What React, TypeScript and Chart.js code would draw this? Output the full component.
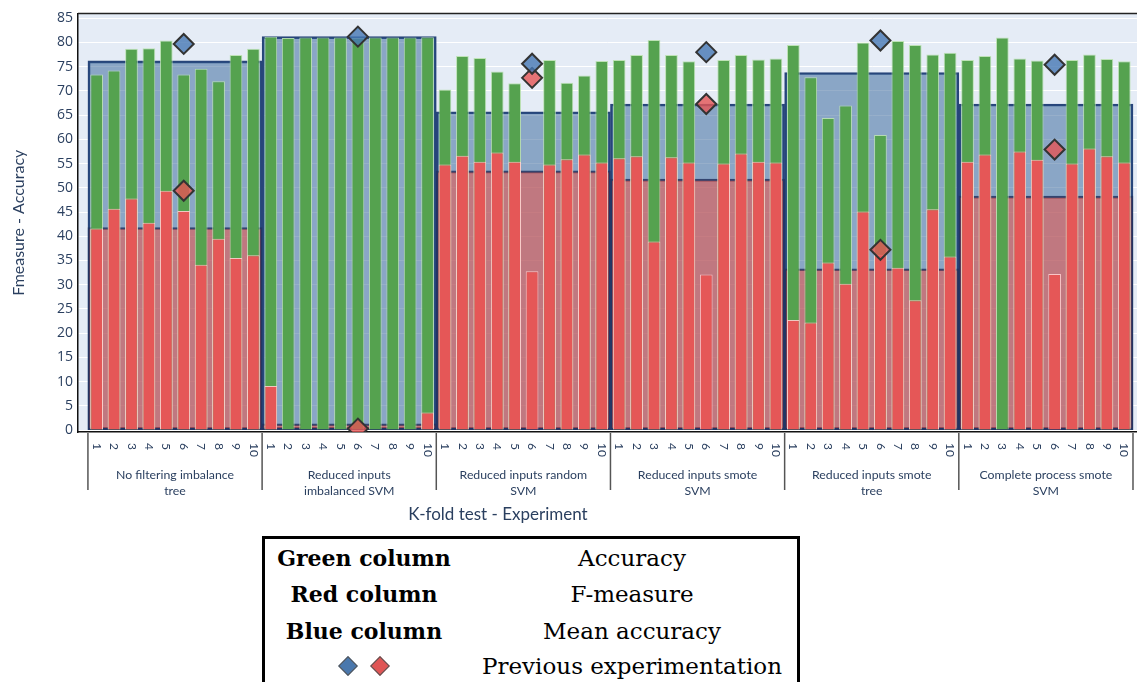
import React, { useEffect, useRef } from 'react';
import { Chart, registerables } from 'chart.js';

Chart.register(...registerables);

// ---------- data ----------
const groupLine1 = [
  'No filtering imbalance',
  'Reduced inputs',
  'Reduced inputs random',
  'Reduced inputs smote',
  'Reduced inputs smote',
  'Complete process smote',
];
const groupLine2 = ['tree', 'imbalanced SVM', 'SVM', 'SVM', 'tree', 'SVM'];
const folds = ['1', '2', '3', '4', '5', '6', '7', '8', '9', '10'];

const accuracy: (number | null)[] = [
  73.4, 74.2, 78.7, 78.8, 80.4, 73.4, 74.6, 72.0, 77.4, 78.7,
  81.2, 80.9, 81.0, 81.0, 81.0, 80.9, 81.0, 81.0, 81.0, 81.1,
  70.3, 77.2, 76.8, 74.0, 71.6, null, 76.4, 71.7, 73.2, 76.2,
  76.4, 77.4, 80.5, 77.4, 76.1, null, 76.4, 77.4, 76.5, 76.7,
  79.5, 72.8, 64.4, 67.0, 80.0, 60.9, 80.3, 79.5, 77.5, 77.9,
  76.4, 77.2, 81.0, 76.7, 76.3, null, 76.4, 77.5, 76.6, 76.1,
];
const fmeasure: (number | null)[] = [
  41.6, 45.7, 47.8, 42.8, 49.4, 45.2, 34.1, 39.5, 35.5, 36.1,
  9.1, 0, 0, 0, 0, 0, 0, 0, 0, 3.6,
  54.8, 56.6, 55.4, 57.3, 55.4, 32.8, 54.8, 55.9, 56.9, 55.2,
  56.1, 56.5, 38.9, 56.3, 55.2, 32.1, 55.0, 57.1, 55.4, 55.2,
  22.7, 22.2, 34.6, 30.2, 45.1, 36.2, 33.5, 26.8, 45.6, 35.8,
  55.4, 56.9, 0, 57.5, 55.8, 32.2, 55.0, 58.1, 56.5, 55.2,
];
const meanAccuracy = [76.2, 81.2, 65.7, 67.3, 73.8, 67.3];
const meanFmeasure = [41.8, 1.3, 53.5, 51.8, 33.3, 48.3];
const prevAccuracy = [79.7, 81.2, 75.6, 78.0, 80.4, 75.4];
const prevFmeasure = [49.4, 0.3, 72.7, 67.3, 37.2, 57.9];
const yTicks = [0, 5, 10, 15, 20, 25, 30, 35, 40, 45, 50, 55, 60, 65, 70, 75, 80, 85];

const legendKeys = ['Green column', 'Red column', 'Blue column'];
const legendValues = ['Accuracy', 'F-measure', 'Mean accuracy', 'Previous experimentation'];

const TEXT = '#2a3f5f';

const decor = {
  id: 'decor',
  beforeDraw(chart: any) {
    const { ctx, chartArea: a } = chart;
    ctx.save();
    ctx.fillStyle = '#e5ecf6';
    ctx.fillRect(a.left, a.top, a.right - a.left, a.bottom - a.top);
    ctx.restore();
  },
  afterDraw(chart: any) {
    const { ctx, chartArea: a } = chart;
    const xs = chart.scales.x;
    ctx.save();
    // top frame
    ctx.strokeStyle = '#222';
    ctx.lineWidth = 1.5;
    ctx.beginPath();
    ctx.moveTo(a.left, a.top);
    ctx.lineTo(a.right, a.top);
    ctx.stroke();
    // fold numbers (rotated clockwise)
    ctx.fillStyle = TEXT;
    ctx.font = '12px Lato';
    ctx.textAlign = 'left';
    ctx.textBaseline = 'middle';
    for (let i = 0; i < accuracy.length; i++) {
      const x = xs.getPixelForValue(i);
      ctx.save();
      ctx.translate(x, a.bottom + 11);
      ctx.rotate(Math.PI / 2);
      ctx.fillText(folds[i % folds.length], 0, 0);
      ctx.restore();
    }
    // group separators
    ctx.strokeStyle = '#555';
    ctx.lineWidth = 1.5;
    for (let g = 0; g <= groupLine1.length; g++) {
      const x = xs.getPixelForValue(g * 10 - 0.5);
      ctx.beginPath();
      ctx.moveTo(x, a.bottom + 1);
      ctx.lineTo(x, a.bottom + 58);
      ctx.stroke();
    }
    // group labels
    ctx.font = '12.3px Lato';
    ctx.textAlign = 'center';
    for (let g = 0; g < groupLine1.length; g++) {
      const cx = xs.getPixelForValue(g * 10 + 4.5);
      ctx.fillText(groupLine1[g], cx, a.bottom + 43);
      ctx.fillText(groupLine2[g], cx, a.bottom + 59);
    }
    // axis title
    ctx.font = '17px Lato';
    ctx.fillText('K-fold test - Experiment', 498, a.bottom + 83);
    ctx.restore();
  },
};

export default function App() {
  const ref = useRef<HTMLCanvasElement>(null);

  useEffect(() => {
    const groupX = meanAccuracy.map((_, g) => g * 10 + 4.5);
    const chart = new Chart(ref.current as HTMLCanvasElement, {
      type: 'bar',
      data: {
        datasets: [
          {
            type: 'line',
            label: 'Previous accuracy',
            data: prevAccuracy.map((v, g) => ({ x: g * 10 + 5, y: v })),
            showLine: false,
            pointStyle: 'rectRot',
            pointRadius: 10,
            pointBorderWidth: 2,
            pointBorderColor: '#333',
            pointBackgroundColor: 'rgba(70,120,180,0.8)',
            xAxisID: 'x',
            order: 0,
          } as any,
          {
            type: 'line',
            label: 'Previous F-measure',
            data: prevFmeasure.map((v, g) => ({ x: g * 10 + 5, y: v })),
            showLine: false,
            pointStyle: 'rectRot',
            pointRadius: 10,
            pointBorderWidth: 2,
            pointBorderColor: '#333',
            pointBackgroundColor: 'rgba(229,85,85,0.8)',
            xAxisID: 'x',
            order: 0,
          } as any,
          {
            type: 'bar',
            label: 'F-measure',
            data: fmeasure.map((v, i) => ({ x: i, y: v })),
            backgroundColor: 'rgb(229,87,87)',
            borderColor: 'rgba(255,205,205,0.9)',
            borderWidth: 1,
            grouped: false,
            barPercentage: 0.73,
            categoryPercentage: 1,
            xAxisID: 'x',
            order: 1,
          } as any,
          {
            type: 'bar',
            label: 'Accuracy',
            data: accuracy.map((v, i) => ({ x: i, y: v })),
            backgroundColor: 'rgb(85,162,79)',
            borderColor: 'rgba(185,225,175,0.9)',
            borderWidth: 1,
            grouped: false,
            barPercentage: 0.73,
            categoryPercentage: 1,
            xAxisID: 'x',
            order: 2,
          } as any,
          {
            type: 'bar',
            label: 'Mean F-measure',
            data: meanFmeasure.map((v, g) => ({ x: groupX[g], y: v })),
            backgroundColor: 'rgba(246,74,58,0.5)',
            borderColor: 'rgba(35,50,95,0.85)',
            borderWidth: 2,
            borderSkipped: false,
            grouped: false,
            barPercentage: 1,
            categoryPercentage: 1,
            xAxisID: 'x2',
            order: 3,
          } as any,
          {
            type: 'bar',
            label: 'Mean accuracy',
            data: meanAccuracy.map((v, g) => ({ x: groupX[g], y: v })),
            backgroundColor: 'rgba(47,96,150,0.5)',
            borderColor: '#27457a',
            borderWidth: 2,
            borderSkipped: false,
            grouped: false,
            barPercentage: 1,
            categoryPercentage: 1,
            xAxisID: 'x2',
            order: 4,
          } as any,
        ],
      },
      options: {
        responsive: false,
        animation: false,
        events: [],
        layout: { autoPadding: false, padding: { top: 11, right: 0, bottom: 0, left: 0 } },
        plugins: { legend: { display: false }, tooltip: { enabled: false } },
        scales: {
          x: {
            type: 'linear',
            position: 'bottom',
            min: -1.07,
            max: 59.73,
            offset: false,
            grid: { display: false, offset: false },
            border: { display: true, color: '#111', width: 1.5 },
            ticks: { display: false },
            afterBuildTicks: (s: any) => {
              s.ticks = accuracy.map((_, i) => ({ value: i }));
            },
            afterFit: (s: any) => {
              s.height = 98;
            },
          },
          x2: {
            type: 'linear',
            position: 'bottom',
            display: false,
            min: -1.07,
            max: 59.73,
            offset: false,
            grid: { display: false, offset: false },
            ticks: { stepSize: 10, includeBounds: false },
          },
          y: {
            type: 'linear',
            min: -0.4,
            max: 86,
            afterBuildTicks: (s: any) => {
              s.ticks = yTicks.map((v) => ({ value: v }));
            },
            afterFit: (s: any) => {
              s.width = 78;
            },
            grid: { color: '#ffffff', lineWidth: 1, drawTicks: false },
            border: { display: true, color: '#111', width: 1.5 },
            ticks: {
              color: TEXT,
              padding: 5,
              font: { family: "'Open Sans'", size: 14 },
            },
            title: {
              display: true,
              text: 'Fmeasure - Accuracy',
              color: TEXT,
              font: { family: 'Lato', size: 16 },
              padding: { top: 9, bottom: 0 },
            },
          },
        },
      } as any,
      plugins: [decor],
    });
    return () => chart.destroy();
  }, []);

  const diamond = (bg: string, left: number) => (
    <div
      style={{
        position: 'absolute',
        left: left - 7,
        top: 127 - 7,
        width: 14,
        height: 14,
        background: bg,
        border: '1px solid #555',
        boxSizing: 'border-box',
        transform: 'rotate(45deg)',
      }}
    />
  );

  const cell = (text: string, cx: number, cy: number, bold: boolean) => (
    <div
      key={text}
      style={{
        position: 'absolute',
        left: cx,
        top: cy,
        transform: 'translate(-50%, -50%)',
        whiteSpace: 'nowrap',
        fontFamily: "'DejaVu Serif', serif",
        fontWeight: bold ? 700 : 400,
        fontSize: bold ? 22 : 23,
        color: '#000',
        lineHeight: 1,
      }}
    >
      {text}
    </div>
  );

  const rowY = [19, 55, 92, 127];

  return (
    <div
      style={{
        position: 'fixed',
        left: 0,
        top: 0,
        width: 1137,
        height: 682,
        overflow: 'hidden',
        background: '#fff',
      }}
    >
      <canvas ref={ref} width={1137} height={530} style={{ display: 'block', width: 1137, height: 530 }} />
      <div
        style={{
          position: 'absolute',
          left: 262,
          top: 536,
          width: 538,
          height: 170,
          border: '3px solid #000',
          boxSizing: 'border-box',
        }}
      >
        {legendKeys.map((k, i) => cell(k, 99, rowY[i], true))}
        {legendValues.map((v, i) => cell(v, 367, rowY[i], false))}
        {diamond('#4a78ad', 83)}
        {diamond('#e05555', 115)}
      </div>
    </div>
  );
}
